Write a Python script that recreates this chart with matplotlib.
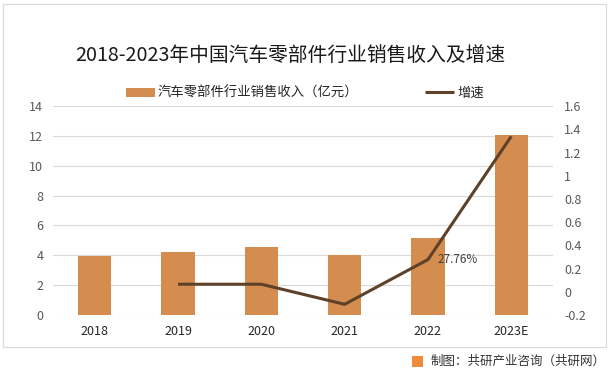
import matplotlib.pyplot as plt
from matplotlib.patches import Rectangle
import numpy as np

plt.rcParams['font.family'] = ['Noto Sans CJK SC', 'DejaVu Sans']

years = ["2018", "2019", "2020", "2021", "2022", "2023E"]
revenue = [3.97, 4.21, 4.57, 4.04, 5.17, 12.06]
growth = [None, 0.065, 0.065, -0.108, 0.2776, 1.34]

bar_color = "#D48D4E"
line_color = "#5E4129"
tick_color = "#595959"

fig = plt.figure(figsize=(6.13, 3.86), dpi=100)
ax = fig.add_axes([0.0865, 0.184, 0.8155, 0.541])
ax2 = ax.twinx()

x = np.arange(len(years))
bars = ax.bar(x, revenue, width=0.4, color=bar_color, zorder=2,
              label="汽车零部件行业销售收入（亿元）")

gx = [i for i, g in enumerate(growth) if g is not None]
gy = [g for g in growth if g is not None]
ln, = ax2.plot(gx, gy, color=line_color, lw=2.2, label="增速",
               solid_capstyle="butt", zorder=3)
ax2.annotate("27.76%", (4, growth[4]), xytext=(7, 0), textcoords="offset points",
             va="center", ha="left", fontsize=8.5, color="#404040")

ax.set_xlim(-0.5, 5.5)
ax.set_ylim(0, 14)
ax.set_yticks(np.arange(0, 15, 2))
ax2.set_ylim(-0.2, 1.6)
ax2.set_yticks(np.round(np.arange(-0.2, 1.61, 0.2), 1))
ax2.set_yticklabels(["-0.2", "0", "0.2", "0.4", "0.6", "0.8", "1", "1.2", "1.4", "1.6"])

ax.set_xticks(x)
ax.set_xticklabels(years)
ax.grid(axis="y", color="#D9D9D9", lw=0.8, zorder=0)
ax.set_axisbelow(True)
for a in (ax, ax2):
    for s in a.spines.values():
        s.set_visible(False)
    a.tick_params(length=0, labelsize=9, colors=tick_color)
ax.tick_params(axis="x", labelcolor="#262626", pad=7)
ax.tick_params(axis="y", pad=7)
ax2.tick_params(axis="y", pad=8)

fig.text(0.473, 0.856, "2018-2023年中国汽车零部件行业销售收入及增速",
         ha="center", va="center", fontsize=14.2, color="#1a1a1a")

fig.legend(handles=[bars, ln], loc="center", bbox_to_anchor=(0.497, 0.759),
           ncol=2, frameon=False, fontsize=9.6, columnspacing=5.0,
           handlelength=2.2, handletextpad=0.2, labelcolor="#262626")

# outer frame
fig.patches.append(Rectangle((0.005, 0.101), 0.984, 0.889, transform=fig.transFigure,
                             fill=False, edgecolor="#D9D9D9", lw=0.8))

# footer
fig.patches.append(Rectangle((0.672, 0.048), 0.018, 0.031, transform=fig.transFigure,
                             facecolor="#F08A3C", edgecolor="none"))
fig.text(0.703, 0.063, "制图：共研产业咨询（共研网）", ha="left", va="center",
         fontsize=9, color="#333333")

fig.savefig("out.png", dpi=100)
